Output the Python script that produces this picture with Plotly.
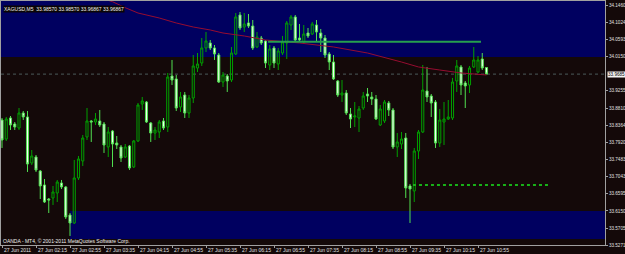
import plotly.graph_objects as go

# ---- data ----
bar_index = list(range(115))

open_ = [33.8501, 33.8010, 33.8553, 33.8398, 33.8294, 33.8682, 33.8579, 33.7390, 33.7545, 33.7183,
         33.6822, 33.6460, 33.6486, 33.6615, 33.6873, 33.6770, 33.6046, 33.5840, 33.7003, 33.7442,
         33.8062, 33.8475, 33.8449, 33.8475, 33.8398, 33.7804, 33.8217, 33.7907, 33.7804, 33.7545,
         33.7829, 33.7287, 33.7959, 33.8915, 33.8966, 33.8424, 33.8165, 33.8191, 33.8475, 33.8320,
         33.9638, 33.9561, 33.8837, 33.9147, 33.8682, 33.9070, 33.9845, 33.9974, 34.0362, 34.0491,
         34.0362, 34.0181, 33.9483, 33.9638, 33.9535, 34.0207, 34.1214, 34.0904, 34.1008, 34.0930,
         34.0388, 34.0620, 34.0543, 33.9922, 34.0362, 33.9948, 34.0232, 34.0491, 34.0956, 34.1163,
         34.0620, 34.0517, 34.0749, 34.0723, 34.0956, 34.0749, 34.0620, 34.0207, 34.0000, 33.9509,
         33.9147, 33.9199, 33.8656, 33.8579, 33.8553, 33.8811, 33.9173, 33.9096, 33.9044, 33.8372,
         33.8475, 33.8940, 33.8760, 33.7804, 33.7881, 33.8036, 33.6796, 33.6667, 33.7700, 33.8191,
         33.9251, 33.9121, 33.8966, 33.7907, 33.8449, 33.8527, 33.8553, 33.9509, 33.9871, 33.9457,
         33.9406, 33.9871, 33.9741, 34.0077, 33.98570]

high = [33.8553, 33.8579, 33.8604, 33.8449, 33.8811, 33.8734, 33.8734, 33.7726, 33.7597, 33.7209,
        33.6977, 33.6486, 33.6796, 33.6951, 33.6951, 33.6796, 33.6098, 33.7468, 33.7571, 33.8114,
        33.8811, 33.8501, 33.8682, 33.8760, 33.8449, 33.8320, 33.8243, 33.8088, 33.7855, 33.7881,
        33.7855, 33.7984, 33.8940, 33.9096, 33.8992, 33.8449, 33.8320, 33.8501, 33.8553, 33.9716,
        34.0052, 33.9664, 33.9225, 33.9225, 33.9147, 34.0181, 34.0232, 34.0620, 34.0775, 34.0568,
        34.0439, 34.0232, 33.9741, 33.9690, 34.0388, 34.1266, 34.1292, 34.1266, 34.1240, 34.1085,
        34.0775, 34.0672, 34.0568, 34.0439, 34.0413, 34.0362, 34.0672, 34.1059, 34.1214, 34.1214,
        34.0982, 34.0956, 34.0879, 34.1034, 34.1085, 34.0853, 34.0698, 34.0258, 34.0181, 33.9535,
        33.9535, 33.9276, 33.8811, 33.8966, 33.8863, 33.9225, 33.9328, 33.9225, 33.9147, 33.8889,
        33.9018, 33.8992, 33.8811, 33.8165, 33.8191, 33.8165, 33.6848, 33.7778, 33.8243, 33.9922,
        33.9871, 33.9173, 33.9018, 33.8785, 33.8966, 33.9018, 33.9587, 34.0052, 33.9922, 33.9509,
        33.9897, 34.0388, 34.0155, 34.0232, 33.98570]

low = [33.7778, 33.7959, 33.8243, 33.8243, 33.8243, 33.8501, 33.7158, 33.7338, 33.7158, 33.6460,
       33.6357, 33.6098, 33.6305, 33.6382, 33.6718, 33.5943, 33.5504, 33.5814, 33.6951, 33.7313,
       33.7984, 33.7933, 33.8372, 33.8320, 33.7649, 33.7545, 33.7287, 33.7752, 33.7416, 33.7519,
       33.7209, 33.7261, 33.7933, 33.8760, 33.8424, 33.7933, 33.7984, 33.8036, 33.8243, 33.8191,
       33.9406, 33.8734, 33.8708, 33.8553, 33.8553, 33.8940, 33.9741, 33.9897, 34.0258, 34.0310,
       34.0052, 33.9457, 33.9354, 33.9225, 33.9483, 34.0181, 34.0827, 34.0775, 34.0879, 34.0310,
       34.0362, 34.0439, 33.9845, 33.9793, 33.9845, 33.9793, 34.0181, 34.0077, 34.0827, 34.0543,
       34.0517, 34.0491, 34.0620, 34.0698, 34.0517, 34.0258, 34.0103, 33.9793, 33.9535, 33.9096,
       33.8966, 33.8630, 33.8294, 33.8320, 33.8191, 33.8760, 33.8966, 33.8889, 33.8501, 33.8346,
       33.8424, 33.8604, 33.7752, 33.7545, 33.7752, 33.6486, 33.5840, 33.6382, 33.7494, 33.8165,
       33.8966, 33.8579, 33.7778, 33.7804, 33.7855, 33.8501, 33.8501, 33.9225, 33.9147, 33.8811,
       33.9199, 33.9845, 33.9716, 33.9793, 33.96867]

close = [33.7984, 33.8527, 33.8372, 33.8320, 33.8682, 33.8579, 33.7364, 33.7571, 33.7209, 33.6796,
         33.6382, 33.6434, 33.6641, 33.6899, 33.6770, 33.5995, 33.5840, 33.7003, 33.7494, 33.8036,
         33.8475, 33.8449, 33.8527, 33.8372, 33.7855, 33.8191, 33.7881, 33.7855, 33.7519, 33.7804,
         33.7261, 33.7959, 33.8889, 33.8992, 33.8449, 33.8165, 33.8243, 33.8449, 33.8294, 33.9612,
         33.9535, 33.8811, 33.9096, 33.8682, 33.9070, 33.9897, 33.9948, 34.0362, 34.0543, 34.0362,
         34.0207, 33.9483, 33.9664, 33.9509, 34.0232, 34.1163, 34.0879, 34.0982, 34.0930, 34.0362,
         34.0646, 34.0491, 33.9974, 34.0336, 33.9974, 34.0284, 34.0517, 34.1008, 34.1163, 34.0568,
         34.0568, 34.0723, 34.0672, 34.0982, 34.0775, 34.0620, 34.0181, 34.0000, 33.9561, 33.9147,
         33.9199, 33.8682, 33.8527, 33.8604, 33.8785, 33.9121, 33.9121, 33.9044, 33.8527, 33.8785,
         33.8966, 33.8760, 33.7804, 33.7933, 33.8010, 33.6744, 33.6718, 33.7700, 33.8191, 33.9276,
         33.9096, 33.8940, 33.7907, 33.8501, 33.8527, 33.8579, 33.9483, 33.9897, 33.9406, 33.9380,
         33.9845, 34.0052, 34.0052, 33.9845, 33.96867]

ma_index = [24, 26, 29, 32, 37, 41, 45, 49, 52, 57, 62, 70, 78, 86, 94, 98, 103, 108, 114]
ma_value = [34.1628, 34.1558, 34.1403, 34.1266, 34.1137, 34.1008, 34.0904, 34.0827, 34.0749, 34.0672,
            34.0568, 34.0491, 34.0388, 34.0232, 33.9999, 33.9871, 33.9793, 33.9716, 33.9664]

upper_line_index = [62.6, 112.7]
upper_line_price = 34.0525
lower_line_index = [96.7, 128.7]
lower_line_price = 33.6822

top_zone = [34.0129, 34.2000]
bottom_zone = [33.5426, 33.6150]
bottom_zone_start = 16.0

y_tick_values = [34.1460, 34.1024, 34.0593, 34.0150, 33.9255, 33.8810, 33.8364, 33.7920,
                 33.7483, 33.7043, 33.6595, 33.6150, 33.5705, 33.5271]
x_tick_index = [0, 8, 16, 24, 32, 40, 48, 56, 64, 72, 80, 88, 96, 104, 112]
x_tick_labels = ["27 Jun 2011", "27 Jun 02:15", "27 Jun 02:55", "27 Jun 03:35", "27 Jun 04:15",
                 "27 Jun 04:55", "27 Jun 05:35", "27 Jun 06:15", "27 Jun 06:55", "27 Jun 07:35",
                 "27 Jun 08:15", "27 Jun 08:55", "27 Jun 09:35", "27 Jun 10:15", "27 Jun 10:55"]

title_text = "XAGUSD,M5  33.98570 33.98570 33.96867 33.96867"
footer_text = "OANDA - MT4, © 2001-2011 MetaQuotes Software Corp."

# ---- styling ----
BG = "#140909"
NAVY = "#000060"
FONT = "Liberation Sans"
x_range = [-0.235, 141.88]
y_range = [33.5271, 34.1576]

fig = go.Figure()

# zones
fig.add_shape(type="rect", xref="paper", x0=0, x1=1, yref="y", y0=top_zone[0], y1=top_zone[1],
              fillcolor=NAVY, line_width=0, layer="below")
fig.add_shape(type="rect", xref="x", x0=bottom_zone_start, x1=x_range[1] + 5, yref="y",
              y0=bottom_zone[0], y1=bottom_zone[1], fillcolor=NAVY, line_width=0, layer="below")

# current price line
last_close = close[-1]
fig.add_shape(type="line", xref="paper", x0=0, x1=1, yref="y", y0=last_close, y1=last_close,
              line=dict(color="#4C5A5A", width=1, dash="dot"), layer="below")

fig.add_trace(go.Scatter(x=ma_index, y=ma_value, mode="lines",
                         line=dict(color="#960C30", width=1), hoverinfo="skip"))

fig.add_trace(go.Scatter(x=upper_line_index, y=[upper_line_price] * 2, mode="lines",
                         line=dict(color="#26A04E", width=2), hoverinfo="skip"))
fig.add_trace(go.Scatter(x=lower_line_index, y=[lower_line_price] * 2, mode="lines",
                         line=dict(color="#18B018", width=2, dash="dot"), hoverinfo="skip"))

fig.add_trace(go.Candlestick(
    x=bar_index, open=open_, high=high, low=low, close=close,
    increasing=dict(line=dict(color="#00A000", width=1), fillcolor="rgba(0,0,0,0)"),
    decreasing=dict(line=dict(color="#50E050", width=1), fillcolor="#F2FFF2"),
    whiskerwidth=0,
))

fig.update_layout(
    width=625, height=254,
    margin=dict(l=1, r=20, t=1, b=9),
    paper_bgcolor=BG, plot_bgcolor=BG,
    showlegend=False,
    font=dict(family=FONT, size=5, color="#E0E0E0"),
    xaxis=dict(range=x_range, rangeslider=dict(visible=False), showgrid=False, zeroline=False,
               tickvals=x_tick_index, showticklabels=False, ticks="outside", ticklen=2,
               tickcolor="#A0A0A0",
               showline=True, linecolor="#A0A0A0", linewidth=1, mirror=True, automargin=False),
    yaxis=dict(range=y_range, side="right", showgrid=False, zeroline=False,
               tickvals=y_tick_values, ticktext=[f"{v:.4f}" for v in y_tick_values],
               ticks="outside", ticklen=2, tickcolor="#A0A0A0", ticklabelstandoff=0,
               tickfont=dict(size=4.6, color="#E0E0E0", family=FONT),
               showline=True, linecolor="#A0A0A0", linewidth=1, mirror=True, automargin=False),
)

# x-axis labels (left-aligned after each tick, as in MT4)
for xi, lab in zip(x_tick_index, x_tick_labels):
    fig.add_annotation(xref="x", yref="paper", x=xi + 0.3, y=0, xanchor="left", yanchor="top",
                       yshift=-1, text=lab, showarrow=False, borderpad=0,
                       font=dict(size=5, color="#E0E0E0", family=FONT))

fig.add_annotation(xref="paper", yref="paper", x=0.003, y=0.985, xanchor="left", yanchor="top",
                   text=title_text, showarrow=False, bgcolor="#0A0505", borderpad=0,
                   font=dict(size=5, color="#F0F0F0", family=FONT))
fig.add_annotation(xref="paper", yref="y", x=0.002, y=33.5375, xanchor="left", yanchor="middle",
                   text=footer_text, showarrow=False, borderpad=0,
                   font=dict(size=5, color="#F0F0F0", family=FONT))
fig.add_annotation(xref="paper", yref="y", x=1.003, y=last_close, xanchor="left", yanchor="middle",
                   text="33.9685", showarrow=False, bgcolor="#F4F4F4", borderpad=0,
                   font=dict(size=4.6, color="#000000", family=FONT))

fig.write_html("out.html", config={"displayModeBar": False})
